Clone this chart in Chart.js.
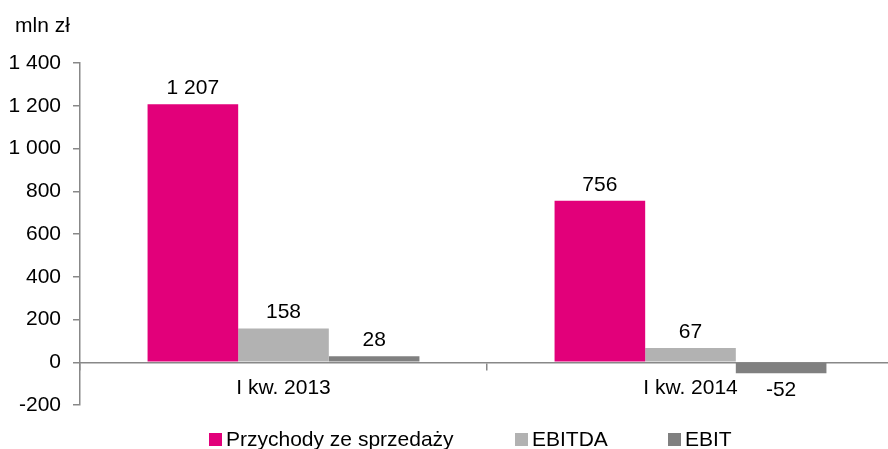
<!DOCTYPE html>
<html>
<head>
<meta charset="utf-8">
<script src="https://cdn.jsdelivr.net/npm/chart.js@4.4.1/dist/chart.umd.min.js"></script>
<style>
  html, body { margin: 0; padding: 0; background: #fff; overflow: hidden; }
  body { width: 888px; height: 449px; position: relative; font-family: "Liberation Sans", Arial, sans-serif; }
  #wrap { position: absolute; left: 0; top: 0; width: 894px; height: 449px; }
  .txt { position: absolute; font-size: 21px; line-height: 24px; color: #000; white-space: nowrap; }
  .leg { position: absolute; top: 427px; height: 24px; display: flex; align-items: center; font-size: 21px; line-height: 24px; color: #000; white-space: nowrap; }
  .leg i { display: inline-block; width: 13px; height: 13px; margin-right: 4px; }
</style>
</head>
<body>
<div id="wrap"><canvas id="chart"></canvas></div>
<div class="txt" style="left:15px; top:13px;">mln zł</div>
<div id="legend"></div>
<script>
// values
const CATEGORIES = ["I kw. 2013", "I kw. 2014"];
const SERIES_NAMES = ["Przychody ze sprzedaży", "EBITDA", "EBIT"];
const REVENUE = [1207, 756];
const EBITDA = [158, 67];
const EBIT = [28, -52];
const Y_MIN = -200, Y_MAX = 1400, Y_STEP = 200;

const COLORS = ["#E2007A", "#B2B2B2", "#808080"];
const AXIS = "#888888";
const FONT = { family: "'Liberation Sans', Arial, sans-serif", size: 21 };

function fmt(v) {
  const s = String(Math.abs(v)).replace(/\B(?=(\d{3})+(?!\d))/g, " ");
  return (v < 0 ? "-" : "") + s;
}

// value labels above/below each bar
const valueLabels = {
  id: "valueLabels",
  afterDatasetsDraw(chart) {
    const ctx = chart.ctx;
    ctx.save();
    ctx.font = FONT.size + "px " + FONT.family;
    ctx.fillStyle = "#000";
    ctx.textAlign = "center";
    ctx.textBaseline = "alphabetic";
    chart.data.datasets.forEach((ds, i) => {
      chart.getDatasetMeta(i).data.forEach((bar, j) => {
        const v = ds.data[j];
        const y = v >= 0 ? bar.y - 10 : bar.y + 23;
        ctx.fillText(fmt(v), bar.x, y);
      });
    });
    ctx.restore();
  },
};

const canvas = document.getElementById("chart");
new Chart(canvas, {
  type: "bar",
  data: {
    labels: CATEGORIES,
    datasets: [REVENUE, EBITDA, EBIT].map((d, i) => ({
      label: SERIES_NAMES[i],
      data: d,
      backgroundColor: COLORS[i],
      borderWidth: 0,
      categoryPercentage: 0.668,
      barPercentage: 1,
    })),
  },
  options: {
    responsive: true,
    maintainAspectRatio: false,
    animation: false,
    layout: { padding: { top: 63, bottom: 44, left: 0, right: 0 } },
    plugins: { legend: { display: false }, tooltip: { enabled: false } },
    scales: {
      x: {
        position: { y: 0 },
        grid: { offset: true, drawOnChartArea: false, drawTicks: true, tickLength: 7, color: AXIS, lineWidth: 1.5 },
        border: { display: true, color: AXIS, width: 1.5 },
        ticks: { color: "#000", font: FONT, padding: 6, maxRotation: 0 },
      },
      y: {
        min: Y_MIN,
        max: Y_MAX,
        afterFit(scale) { scale.width = 80; },
        grid: { drawOnChartArea: false, drawTicks: true, tickLength: 7, color: AXIS, lineWidth: 1.5 },
        border: { display: true, color: AXIS, width: 1.5 },
        ticks: { stepSize: Y_STEP, color: "#000", font: FONT, padding: 12, callback: (v) => fmt(v) },
      },
    },
  },
  plugins: [valueLabels],
});

// legend as plain HTML
const legendX = [209, 515, 668];
const legend = document.getElementById("legend");
SERIES_NAMES.forEach((name, i) => {
  const item = document.createElement("div");
  item.className = "leg";
  item.style.left = legendX[i] + "px";
  item.innerHTML = '<i style="background:' + COLORS[i] + '"></i>' + name;
  legend.appendChild(item);
});
</script>
</body>
</html>
